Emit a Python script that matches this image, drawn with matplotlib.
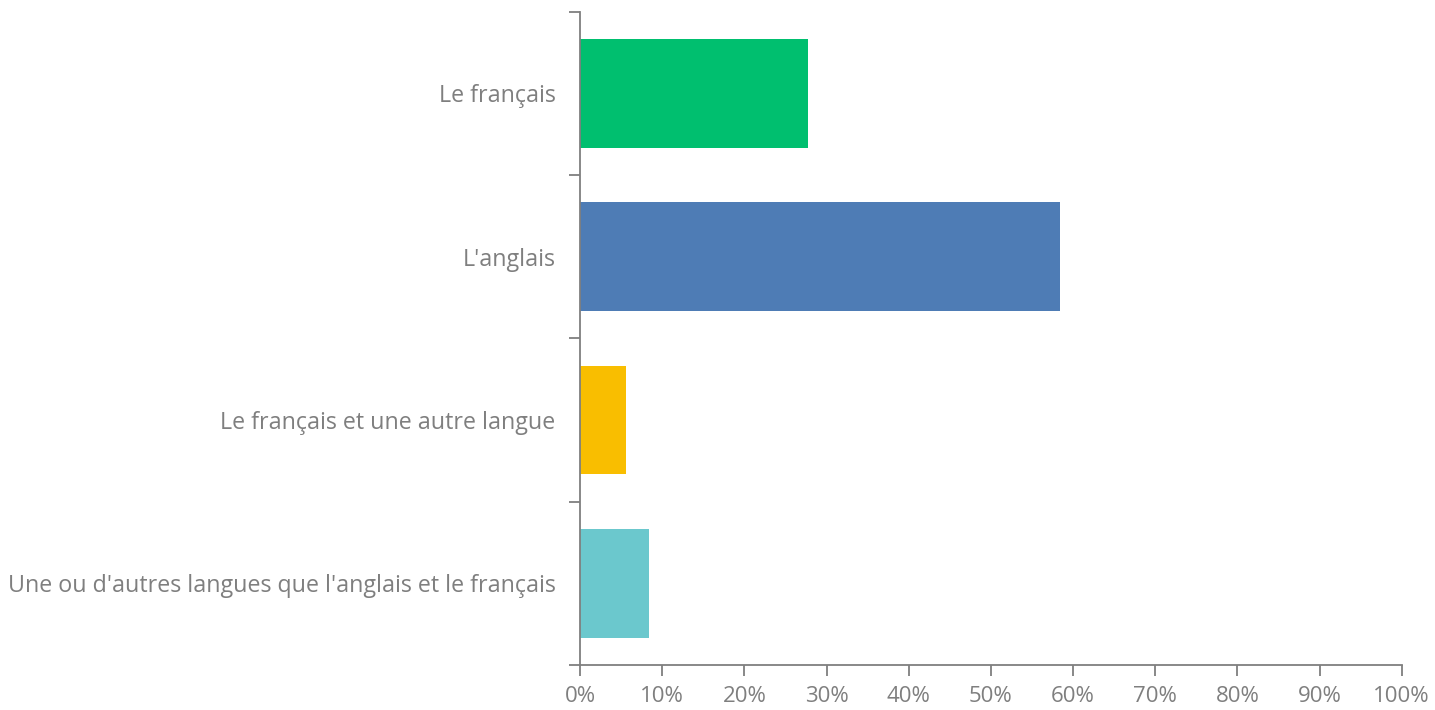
import numpy as np
import matplotlib
matplotlib.use('Agg')
import matplotlib.pyplot as plt
from matplotlib.ticker import FixedLocator, PercentFormatter

categories = [
    "Le français",
    "L'anglais",
    "Le français et une autre langue",
    "Une ou d'autres langues que l'anglais et le français",
]
values = [27.8, 58.4, 5.6, 8.4]
colors = ['#00BF6F', '#4E7CB5', '#F9BE00', '#6BC8CD']
xticks = list(range(0, 101, 10))

plt.rcParams['font.family'] = ['Open Sans', 'DejaVu Sans']
GRAY = '#7F7F7F'

fig = plt.figure(figsize=(14.35, 7.1), dpi=100)
ax = fig.add_axes([0.4042, 0.0634, 0.5726, 0.9201])

y = np.arange(len(categories))
ax.barh(y, values, height=0.666, color=colors)
ax.set_ylim(len(categories) - 0.5, -0.5)
ax.set_xlim(0, 100)

ax.set_yticks(y)
ax.set_yticklabels(categories, fontsize=16.75, color=GRAY)
ax.yaxis.set_minor_locator(FixedLocator(np.arange(-0.5, len(categories), 1)))
ax.tick_params(axis='y', which='major', length=0, pad=17.5)
ax.tick_params(axis='y', which='minor', length=8, width=1.3, color=GRAY)

ax.set_xticks(xticks)
ax.xaxis.set_major_formatter(PercentFormatter(decimals=0))
ax.tick_params(axis='x', length=8, width=1.3, color=GRAY, labelcolor=GRAY,
               labelsize=16, pad=7)

for s in ['top', 'right']:
    ax.spines[s].set_visible(False)
for s in ['left', 'bottom']:
    ax.spines[s].set_color(GRAY)
    ax.spines[s].set_linewidth(1.3)

fig.savefig('out.png', dpi=100)
